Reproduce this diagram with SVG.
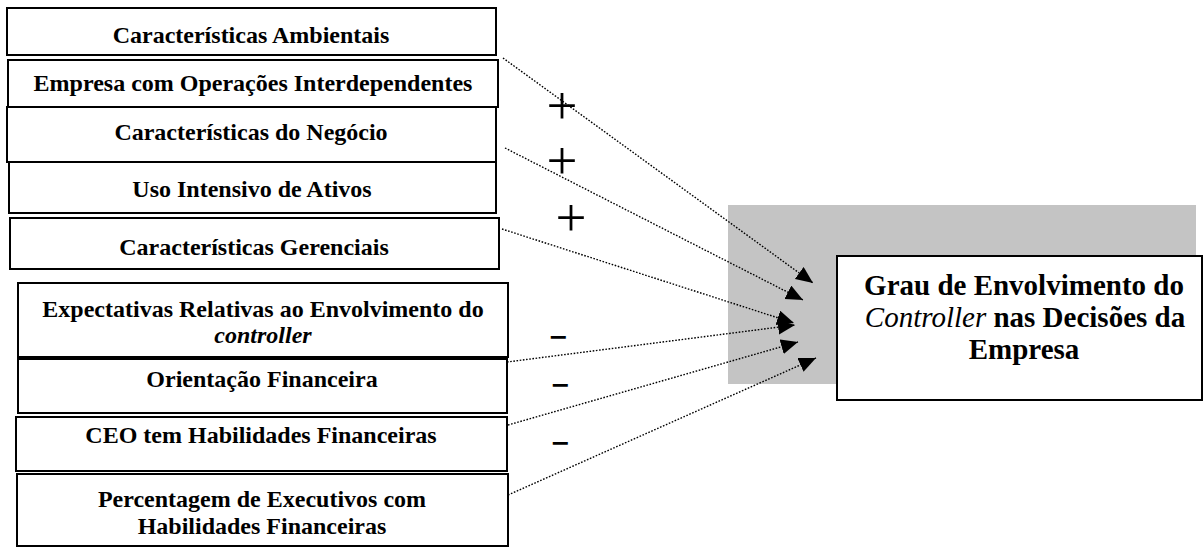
<svg xmlns="http://www.w3.org/2000/svg" width="1204" height="547" viewBox="0 0 1204 547">
<style>
.box{fill:#fff;stroke:#000;stroke-width:2}
.t{font-family:"Liberation Serif","Times New Roman",serif;font-weight:bold;font-size:24px;text-anchor:middle;fill:#000}
.tt{font-family:"Liberation Serif","Times New Roman",serif;font-weight:bold;font-size:29px;text-anchor:middle;fill:#000}
.it{font-family:"Liberation Serif","DejaVu Serif",serif;font-style:italic}
.sign{font-family:"Liberation Serif","Times New Roman",serif;font-size:55px;text-anchor:middle;fill:#000}
.minus{font-family:"DejaVu Sans",sans-serif;font-weight:bold;font-size:24px;text-anchor:middle;fill:#000}
.c{fill:none;stroke:#000;stroke-width:1.4;stroke-dasharray:1.6 1.6;marker-end:url(#ah)}
</style>
<defs>
<marker id="ah" markerUnits="userSpaceOnUse" markerWidth="18" markerHeight="16" refX="17" refY="7.5" orient="auto">
<path d="M0,0 L17,7.5 L0,15 z" fill="#000"/>
</marker>
</defs>
<rect width="1204" height="547" fill="#fff"/>
<rect id="shadow" x="728" y="205" width="468" height="179" fill="#c4c4c4"/>

<g id="n1"><rect class="box" x="7" y="8" width="489" height="47"/><text class="t" x="251" y="43">Características Ambientais</text></g>
<g id="n2"><rect class="box" x="8" y="60" width="490" height="47"/><text class="t" x="253" y="91">Empresa com Operações Interdependentes</text></g>
<g id="n3"><rect class="box" x="7" y="107" width="489" height="55"/><text class="t" x="251" y="140">Características do Negócio</text></g>
<g id="n4"><rect class="box" x="9" y="162" width="487" height="51"/><text class="t" x="252" y="197">Uso Intensivo de Ativos</text></g>
<g id="n5"><rect class="box" x="10" y="218" width="489" height="51"/><text class="t" x="254" y="255">Características Gerenciais</text></g>
<g id="n6"><rect class="box" x="18" y="283" width="490" height="74"/><text class="t" x="263" y="317">Expectativas Relativas ao Envolvimento do</text><text class="t it" x="263" y="343">controller</text></g>
<g id="n7"><rect class="box" x="18" y="359" width="489" height="54"/><text class="t" x="262" y="387">Orientação Financeira</text></g>
<g id="n8"><rect class="box" x="16" y="417" width="491" height="54"/><text class="t" x="261" y="443">CEO tem Habilidades Financeiras</text></g>
<g id="n9"><rect class="box" x="17" y="474" width="491" height="72"/><text class="t" x="262" y="507">Percentagem de Executivos com</text><text class="t" x="262" y="534">Habilidades Financeiras</text></g>

<g id="target"><rect class="box" x="837" y="256" width="365" height="144"/>
<text class="tt" x="1024" y="295">Grau de Envolvimento do</text>
<text class="tt" x="1025" y="327"><tspan class="it" font-weight="normal">Controller</tspan> nas Decisões da</text>
<text class="tt" x="1024" y="359">Empresa</text></g>

<g id="connectors">
<path class="c" d="M503,58 L813,283"/>
<path class="c" d="M505,148 L803,300"/>
<path class="c" d="M502,229 L794,323"/>
<path class="c" d="M507,362 L795,325"/>
<path class="c" d="M508,425 L798,342"/>
<path class="c" d="M508,495 L816,358"/>
</g>

<g id="signs">
<text class="sign" x="562" y="124">+</text>
<text class="sign" x="562" y="179">+</text>
<text class="sign" x="571" y="236">+</text>
<text class="minus" x="558" y="345">−</text>
<text class="minus" x="560" y="393">−</text>
<text class="minus" x="560" y="451">−</text>
</g>
</svg>
